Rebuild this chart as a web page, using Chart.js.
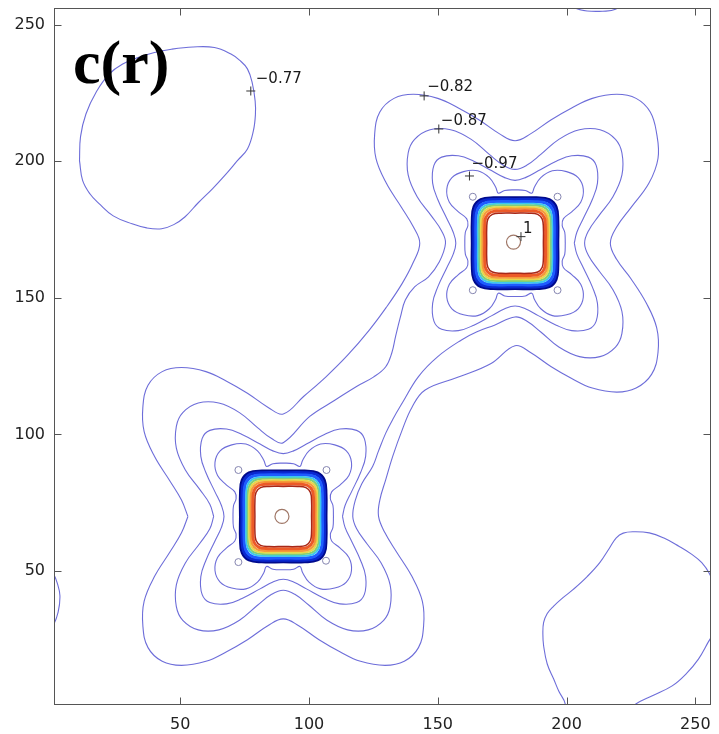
<!DOCTYPE html>
<html><head><meta charset="utf-8">
<script src="https://cdn.jsdelivr.net/npm/chart.js@4.4.0/dist/chart.umd.min.js"></script>
<style>html,body{margin:0;padding:0;background:#fff;}</style>
</head><body>
<canvas id="c" width="719" height="734"></canvas>
<script>
// ---------- data ----------
const xTicks = [50, 100, 150, 200, 250];
const yTicks = [50, 100, 150, 200, 250];
const clusterCenters = [[90, 70], [180, 170]];
const ringHalfWidths = [11.0, 11.8, 12.6, 13.2, 13.8, 14.4, 15.2, 16.0, 16.6];
const roundedSquareShape = [[1,0],[1,0.5],[0.96,0.8],[0.8,0.96],[0.5,1],[0,1],[-0.5,1],[-0.8,0.96],[-0.96,0.8],[-1,0.5],[-1,0],[-1,-0.5],[-0.96,-0.8],[-0.8,-0.96],[-0.5,-1],[0,-1],[0.5,-1],[0.8,-0.96],[0.96,-0.8],[1,-0.5],[1,0]];
const level97Shape = [
[19.5,0],[19.3,4],[18.3,6.5],[18.8,9],[22,11.5],[25.5,15],[26.5,19.8],[24.5,24],[20,26.2],[14.5,26.5],[10,24],[7.5,20.5],[6.5,18.3],[4,19.3],[0,19.5],
[-4,19.3],[-6.5,18.3],[-7.5,20.5],[-10,24],[-14.5,26.5],[-20,26.2],[-24.5,24],[-26.5,19.8],[-25.5,15],[-22,11.5],[-18.8,9],[-18.3,6.5],[-19.3,4],[-19.5,0],
[-19.3,-4],[-18.3,-6.5],[-18.8,-9],[-22,-11.5],[-25.5,-15],[-26.5,-19.8],[-24.5,-24],[-20,-26.2],[-14.5,-26.5],[-10,-24],[-7.5,-20.5],[-6.5,-18.3],[-4,-19.3],[0,-19.5],
[4,-19.3],[6.5,-18.3],[7.5,-20.5],[10,-24],[14.5,-26.5],[20,-26.2],[24.5,-24],[26.5,-19.8],[25.5,-15],[22,-11.5],[18.8,-9],[18.3,-6.5],[19.3,-4],[19.5,0]];
const level92Shape = [
[23,0],[24,4],[26.5,9],[30,16],[32,22],[31.5,28.5],[28.5,31.5],[22,32],[16,30],[9,26.5],[4,24],[0,23],
[-4,24],[-9,26.5],[-16,30],[-22,32],[-28.5,31.5],[-31.5,28.5],[-32,22],[-30,16],[-26.5,9],[-24,4],[-23,0],
[-24,-4],[-26.5,-9],[-30,-16],[-32,-22],[-31.5,-28.5],[-28.5,-31.5],[-22,-32],[-16,-30],[-9,-26.5],[-4,-24],[0,-23],
[4,-24],[9,-26.5],[16,-30],[22,-32],[28.5,-31.5],[31.5,-28.5],[32,-22],[30,-16],[26.5,-9],[24,-4],[23,0]];
const level87Path = [
[63,70],[61.5,74.5],[57.5,80],[52,87],[48.5,95],[48.5,103],[51,108],[57,111.5],[65,111.5],[73,108],[80,102.5],[85.5,98.5],[90,97],
[100.3,106.6],[110,112.5],[118.3,117.5],[125,121],[129.8,124.8],[132.2,130],[133.6,135.8],[135.5,143],[137.4,149.2],[141,154],[146.4,157.7],[150.5,163],[153,170],
[151.5,174.5],[147.5,180],[142,187],[138.5,195],[138.5,203],[141,208],[147,211.5],[155,211.5],[163,208],[170,202.5],[175.5,198.5],[180,197],
[184.5,198.5],[190,202.5],[197,208],[205,211.5],[213,211.5],[219,208],[221.5,203],[221.5,195],[218,187],[212.5,180],[208.5,174.5],[207,170],
[208.5,165.5],[212.5,160],[218,153],[221.5,145],[221.5,137],[219,132],[213,128.5],[205,128.5],[197,132],[190,137.5],[184.5,141.5],[180,143],
[172,140],[165,137.5],[159.2,134.6],[150,128.5],[142.5,121.2],[136.2,111.5],[132.5,105.5],[129.8,100.5],[127,94],[124.7,88.3],[120.5,82],[118,76],[117,70],
[118.5,65.5],[122.5,60],[128,53],[131.5,45],[131.5,37],[129,32],[123,28.5],[115,28.5],[107,32],[100,37.5],[94.5,41.5],[90,43],
[85.5,41.5],[80,37.5],[73,32],[65,28.5],[57,28.5],[51,32],[48.5,37],[48.5,45],[52,53],[57.5,60],[61.5,65.5],[63,70]];
const level82Path = [
[53,70],[50.5,76],[46,83],[40,92],[36,101],[35.5,110],[37.5,118],[43,123],[50.5,124.5],[60,123],[68,119.5],[76.1,115.1],[84,110],[90,107.5],
[98,114],[106.7,121.2],[115,129],[123.4,138.2],[130,146.5],[136.2,155.3],[140.5,163],[143,170],
[140.5,176],[136,183],[130,192],[126,201],[125.5,210],[127.5,218],[133,223],[140.5,224.5],[150,223],[158,219.5],[166.1,215.1],[174,210],[180,207.5],
[186,210],[193.9,215.1],[202,219.5],[210,223],[219.5,224.5],[227,223],[232.5,218],[235,210],[235.5,201],[232,192],[225,183],[219.5,176],[217,170],
[219.5,164],[225,157],[231,148],[235,139],[235.5,130],[233,122],[227,117],[219.5,115.5],[210,117],[202,120.5],[193.9,124.9],[186,130],[180,132.5],
[170.7,126],[158,121],[145.1,116.3],[140,110],[136.2,101.7],[132.5,92],[129.8,83.5],[127.5,76],[127,70],
[129.5,64],[134,57],[140,48],[144,39],[144.5,30],[142.5,22],[137,17],[129.5,15.5],[120,17],[112,20.5],[103.9,24.9],[96,30],[90,32.5],
[84,30],[76.1,24.9],[68,20.5],[60,17],[50.5,15.5],[43,17],[37.5,22],[35.5,30],[36,39],[40,48],[46,57],[50.5,64],[53,70]];
const level77TopLeft = [[10.9,200.2],[12.1,193],[15,188],[18.5,184.5],[24,180],[31.3,177.1],[37,175.6],[42.8,175.3],[47.5,176.8],[51.8,179.6],[57,184.8],[62.6,190],[67.5,195],[72.2,200.2],[76.1,204.5],[78.4,211.1],[79.2,217],[79.1,222],[78,228.5],[76.1,233.8],[73,237],[69.7,239.2],[63.3,241.6],[55,241.8],[46.6,241],[40,239.8],[33.9,238],[27.5,235.5],[22.4,231.9],[17.5,225.5],[13.4,217.3],[11.3,209],[10.9,200.2]];
const level77BottomRight = [[198.5,-3],[199.5,1.35],[197,6],[195,10.5],[192.5,16],[191.1,22.6],[190.8,27],[191.1,31.2],[192.5,34.5],[195,37.2],[198.5,40.2],[202.6,43.3],[208,48],[212.9,53.1],[216.5,58.2],[219.3,62.2],[222,63.9],[225.7,64.4],[232.1,64],[238,62],[243.6,59.1],[248.5,56.2],[252.5,53.1],[255.5,49],[258.5,42],[259,34],[258,28],[255.7,25.1],[251.2,17.8],[246.5,12.5],[241,8],[233.3,4.4],[226.9,1.35],[224,-2]];
const level77LeftEdge = [[-3,54],[0.6,49.4],[2.3,45.5],[3.3,41],[2.6,35],[0.6,29.9],[-3,25]];
const level77TopEdge = [[199,259],[203,256.2],[208,255],[214,254.9],[219,255.6],[223,259]];
const saddleCircles = [[72.6,87],[106.8,87],[72.6,53.3],[106.6,53.8],[163.6,187],[196.5,187],[163.6,152.8],[196.5,152.8]];
const peakCircles = [[89.5,70],[179.4,170.4]];
const labelTexts = ['\u22120.77', '\u22120.82', '\u22120.87', '\u22120.97', '1'];
const labelPoints = [[77.4,225.7],[144.7,223.9],[150.4,211.8],[162.3,194.6],[182.3,172.4]];

// ---------- styles ----------
const ringColors = ['#a82818','#ec5a28','#f59a3a','#e6d84a','#7ed07a','#3cc8ee','#1e5cff','#0a28d0','#000a8c'];
const ringWidths = [1.5, 3, 2.2, 2, 2, 2, 3, 3, 3];
const labelOffsets = [[5,-12],[3,-9],[2,-8],[2,-12],[2,-8]];
const lineColor = 'rgba(84,84,210,0.85)';

const pts = a => a.map(p => ({x: p[0], y: p[1]}));
const placed = (shape, c, s) => shape.map(p => ({x: c[0] + p[0] * s, y: c[1] + p[1] * s}));
const lineDs = (data, color, width, order) => ({data, showLine: true, borderColor: color, borderWidth: width, pointRadius: 0, tension: 0.4, fill: false, order});

const datasets = [];
clusterCenters.forEach(c => {
  ringHalfWidths.forEach((h, i) => datasets.push(lineDs(placed(roundedSquareShape, c, h), ringColors[i], ringWidths[i], 0)));
  datasets.push(lineDs(placed(level97Shape, c, 1), lineColor, 1.1, 10));
  datasets.push(lineDs(placed(level92Shape, c, 1), lineColor, 1.1, 10));
});
[level87Path, level82Path, level77TopLeft, level77BottomRight, level77LeftEdge, level77TopEdge].forEach(p => datasets.push(lineDs(pts(p), lineColor, 1.1, 10)));
datasets.push({data: pts(saddleCircles), showLine: false, pointRadius: 3.5, pointStyle: 'circle', pointBackgroundColor: 'rgba(0,0,0,0)', pointBorderColor: '#8585b0', pointBorderWidth: 1, order: 5});
datasets.push({data: pts(peakCircles), showLine: false, pointRadius: 7, pointStyle: 'circle', pointBackgroundColor: 'rgba(0,0,0,0)', pointBorderColor: '#a07868', pointBorderWidth: 1.2, order: 5});
datasets.push({data: pts(labelPoints), showLine: false, pointRadius: 4.5, pointStyle: 'cross', pointBorderColor: '#333', pointBorderWidth: 1, order: 1});

const framePlugin = {
  id: 'frame',
  afterDatasetsDraw(chart) {
    const {ctx, chartArea: a, scales: {x, y}} = chart;
    ctx.save();
    ctx.strokeStyle = '#555'; ctx.lineWidth = 1;
    const L = Math.round(a.left) + 0.5, R = Math.round(a.right) - 0.5, T = Math.round(a.top) + 0.5, B = Math.round(a.bottom) - 0.5;
    ctx.strokeRect(L, T, R - L, B - T);
    const tl = 7;
    ctx.beginPath();
    xTicks.forEach(v => { const px = Math.round(x.getPixelForValue(v)) + 0.5; ctx.moveTo(px, B); ctx.lineTo(px, B - tl); ctx.moveTo(px, T); ctx.lineTo(px, T + tl); });
    yTicks.forEach(v => { const py = Math.round(y.getPixelForValue(v)) + 0.5; ctx.moveTo(L, py); ctx.lineTo(L + tl, py); ctx.moveTo(R, py); ctx.lineTo(R - tl, py); });
    ctx.stroke();
    // contour labels
    ctx.fillStyle = '#1a1a1a';
    ctx.font = '15px "DejaVu Sans"';
    ctx.textAlign = 'left'; ctx.textBaseline = 'middle';
    labelTexts.forEach((t, i) => {
      const px = x.getPixelForValue(labelPoints[i][0]) + labelOffsets[i][0];
      const py = y.getPixelForValue(labelPoints[i][1]) + labelOffsets[i][1];
      ctx.fillText(t, px, py);
    });
    // panel title
    ctx.fillStyle = '#000';
    ctx.font = 'bold 62px "Liberation Serif"';
    ctx.textBaseline = 'alphabetic';
    ctx.fillText('c(r)', a.left + 19, a.top + 75);
    ctx.restore();
  }
};

new Chart(document.getElementById('c'), {
  type: 'scatter',
  data: {datasets},
  options: {
    responsive: false, animation: false, events: [],
    layout: {padding: {top: 7, right: 1, left: 0, bottom: 0}},
    plugins: {legend: {display: false}, tooltip: {enabled: false}},
    elements: {line: {capBezierPoints: false}},
    scales: {
      x: {type: 'linear', min: 1, max: 256,
          grid: {display: false, drawTicks: false}, border: {display: false},
          afterBuildTicks: s => { s.ticks = xTicks.map(v => ({value: v})); },
          afterFit: s => { s.height = 29; s.paddingLeft = 0; s.paddingRight = 0; },
          ticks: {padding: 10, autoSkip: false, maxRotation: 0, color: '#222', font: {family: 'DejaVu Sans', size: 16}}},
      y: {type: 'linear', min: 1, max: 256,
          grid: {display: false, drawTicks: false}, border: {display: false},
          afterBuildTicks: s => { s.ticks = yTicks.map(v => ({value: v})); },
          afterFit: s => { s.width = 54; s.paddingTop = 0; s.paddingBottom = 0; },
          ticks: {padding: 9, autoSkip: false, color: '#222', font: {family: 'DejaVu Sans', size: 16}}}
    }
  },
  plugins: [framePlugin]
});
</script>
</body></html>
